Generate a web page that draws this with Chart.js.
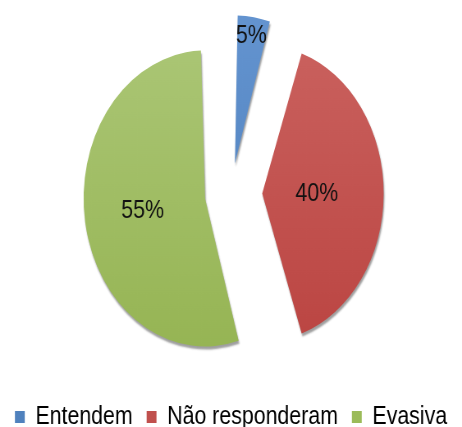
<!DOCTYPE html>
<html>
<head>
<meta charset="utf-8">
<script src="https://cdn.jsdelivr.net/npm/chart.js@4.4.0/dist/chart.umd.min.js"></script>
<style>
  html, body { margin: 0; padding: 0; background: #fff; }
  /* the original picture is squeezed sideways, so the canvas is too */
  #pie { display: block; }
</style>
</head>
<body>
<canvas id="pie" width="563" height="427" style="width:462px;height:427px"></canvas>
<script>
// data
const categories = ['Entendem', 'Não responderam', 'Evasiva'];
const percentages = [5, 40, 55];

// styles
const baseColors = ['#4f81bd', '#c0504d', '#9bbb59'];
const gradTop = ['#6797d3', '#cc6562', '#adc879'];
const gradBottom = ['#4a7cb8', '#b9413e', '#93b24f'];
const explode = [122, 152, 128];
const pieRadius = 148;
const labelRadius = [0.87, 0.45, 0.52];

const fillFor = (c) => {
  const area = c.chart.chartArea;
  const i = c.dataIndex;
  if (!area) return baseColors[i];
  const g = c.chart.ctx.createLinearGradient(0, area.top, 0, area.bottom);
  g.addColorStop(0, gradTop[i]);
  g.addColorStop(1, gradBottom[i]);
  return g;
};

// chart.js grows an offset arc a bit (offset/4 * fix), take that back so all slices keep one radius
const growth = (arc) => {
  const off = (arc.options.offset || 0) / 4;
  const fix = 1 - Math.sin(Math.min(Math.PI, arc.circumference || 0));
  return {off, grow: off * fix};
};

const evenRadius = {
  id: 'evenRadius',
  beforeDatasetsDraw(chart) {
    chart.getDatasetMeta(0).data.forEach(arc => {
      arc.outerRadius = pieRadius - growth(arc).grow;
    });
  }
};

// little rim under the slices, like the excel bevel
const rimShadow = {
  id: 'rimShadow',
  beforeDatasetsDraw(chart) {
    const ctx = chart.ctx;
    ctx.save();
    ctx.shadowColor = 'rgba(40,40,40,0.45)';
    ctx.shadowOffsetX = 1;
    ctx.shadowOffsetY = 3;
    ctx.shadowBlur = 2;
  },
  afterDatasetsDraw(chart) {
    chart.ctx.restore();
  }
};

// percent labels inside the slices
const sliceLabels = {
  id: 'sliceLabels',
  afterDatasetsDraw(chart) {
    const ctx = chart.ctx;
    const meta = chart.getDatasetMeta(0);
    ctx.save();
    ctx.font = '26px "Liberation Sans", Arial, sans-serif';
    ctx.fillStyle = '#111';
    ctx.textAlign = 'center';
    ctx.textBaseline = 'middle';
    meta.data.forEach((arc, i) => {
      const mid = (arc.startAngle + arc.endAngle) / 2;
      const {off} = growth(arc);
      const d = off + pieRadius * labelRadius[i];
      ctx.fillText(percentages[i] + '%', arc.x + Math.cos(mid) * d, arc.y + Math.sin(mid) * d);
    });
    ctx.restore();
  }
};

new Chart(document.getElementById('pie'), {
  type: 'pie',
  data: {
    labels: categories,
    datasets: [{
      data: percentages,
      backgroundColor: fillFor,
      borderWidth: 0,
      offset: explode
    }]
  },
  options: {
    responsive: false,
    animation: false,
    devicePixelRatio: 1,
    radius: pieRadius,
    layout: { padding: { top: -5, bottom: -13, left: 0, right: 0 } },
    plugins: {
      tooltip: { enabled: false },
      legend: {
        position: 'bottom',
        labels: {
          boxWidth: 12,
          boxHeight: 12,
          padding: 17,
          color: '#111',
          font: { size: 26, family: '"Liberation Sans", Arial, sans-serif' },
          generateLabels: () => categories.map((t, i) => ({
            text: t,
            fillStyle: baseColors[i],
            strokeStyle: baseColors[i],
            lineWidth: 0,
            hidden: false,
            index: i
          }))
        }
      }
    }
  },
  plugins: [evenRadius, rimShadow, sliceLabels]
});
</script>
</body>
</html>
